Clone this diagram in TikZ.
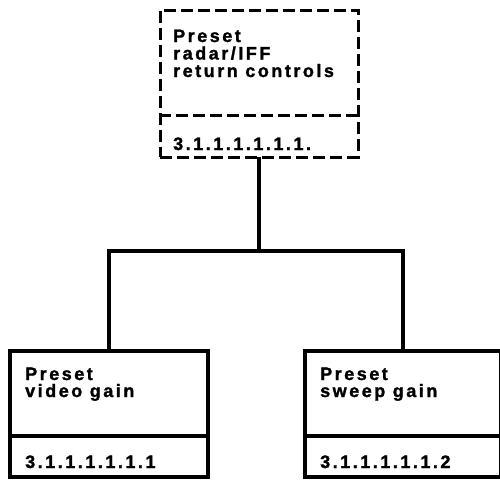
\documentclass[tikz,border=0pt]{standalone}
\usepackage{fontspec}
\newfontfamily\labelfont[LetterSpace=14, BoldFeatures={FakeBold=1.5}]{Liberation Sans}
\begin{document}
\begin{tikzpicture}[x=1pt,y=-1pt,
  solidbox/.style={draw, rectangle, line width=3.5pt, inner sep=0pt},
  dashbox/.style={draw, rectangle, line width=3pt, inner sep=0pt,
    dash pattern=on 12pt off 5pt},
  divider/.style={line width=3.2pt},
  dashdivider/.style={line width=3pt, dash pattern=on 12pt off 5pt},
  wire/.style={line width=3.5pt, line cap=rect},
  lbl/.style={anchor=base west, inner sep=0pt,
    font=\labelfont\bfseries\fontsize{18}{18}\selectfont}]
\useasboundingbox (0,0) rectangle (500,482);
\clip (0,0) rectangle (500,482);

% top box (dashed)
\node[dashbox, minimum width=198pt, minimum height=147pt] (top) at (259,83.5) {};
\draw[dashdivider] (top.west |- 0,115) -- (top.east |- 0,115);
\node[lbl] (topa) at (173,42) {Preset};
\node[lbl] (topb) at (173,59.5) {radar/IFF};
\node[lbl] (topc) at (173,77) {return controls};
\node[lbl] (topn) at (173,150) {3.1.1.1.1.1.1.};

% lower left box
\node[solidbox, minimum width=198pt, minimum height=126pt] (left) at (109,414) {};
\draw[divider] (left.west |- 0,436) -- (left.east |- 0,436);
\node[lbl] (lefta) at (25,380) {Preset};
\node[lbl] (leftb) at (25,397) {video gain};
\node[lbl] (leftn) at (25,468) {3.1.1.1.1.1.1};

% lower right box
\node[solidbox, minimum width=196pt, minimum height=126pt] (right) at (403,414) {};
\draw[divider] (right.west |- 0,436) -- (right.east |- 0,436);
\node[lbl] (righta) at (320,380) {Preset};
\node[lbl] (rightb) at (320,397) {sweep gain};
\node[lbl] (rightn) at (320,468) {3.1.1.1.1.1.2};

% connectors
\coordinate (bus) at (0,251);
\draw[wire] (top.south) -- (top.south |- bus);
\draw[wire] (left.north) -- (left.north |- bus) -- (right.north |- bus) -- (right.north);
\end{tikzpicture}
\end{document}
